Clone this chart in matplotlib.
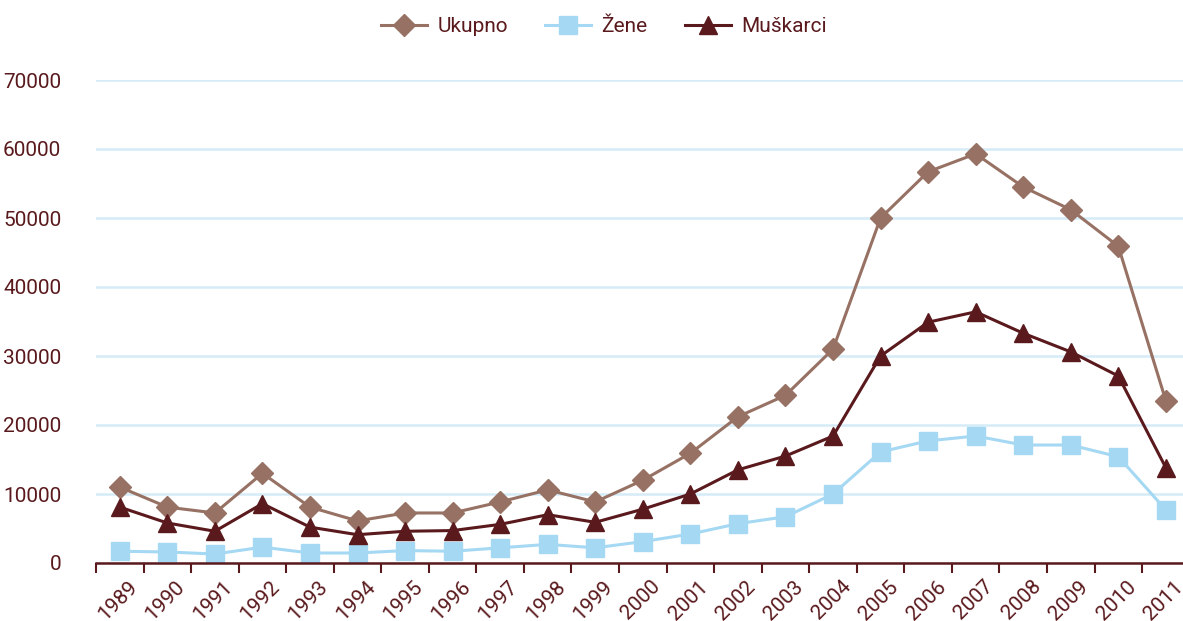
import numpy as np
import matplotlib.pyplot as plt
from matplotlib.transforms import ScaledTranslation

years = [str(y) for y in range(1989, 2012)]
ukupno = [11000, 8100, 7250, 13000, 8100, 6100, 7250, 7250, 8850, 10600, 8850, 12000,
          15900, 21200, 24300, 31000, 50000, 56700, 59300, 54500, 51200, 45900, 23500]
zene = [1700, 1600, 1300, 2300, 1450, 1450, 1800, 1700, 2200, 2700, 2200, 3100,
        4200, 5700, 6700, 10000, 16100, 17700, 18400, 17100, 17100, 15400, 7700]
muskarci = [8100, 5800, 4600, 8600, 5200, 4100, 4600, 4700, 5600, 7000, 5900, 7800,
            10000, 13500, 15500, 18400, 30000, 34900, 36400, 33300, 30600, 27100, 13800]
yticks = [0, 10000, 20000, 30000, 40000, 50000, 60000, 70000]

text_color = '#5a1a1d'
c_uk = '#977264'
c_ze = '#a5d8f3'
c_mu = '#5a1a1d'
grid_color = '#d5ecf8'

plt.rcParams['font.family'] = ['Roboto', 'DejaVu Sans']

fig = plt.figure(figsize=(11.83, 6.21), dpi=100)
ax = fig.add_axes([96 / 1183, 1 - 563 / 621, (23 * 47.55) / 1183, (563 - 80) / 621])

x = np.arange(len(years))
ax.plot(x, ukupno, color=c_uk, lw=2.2, marker='D', ms=11, label='Ukupno')
ax.plot(x, zene, color=c_ze, lw=2.2, marker='s', ms=13, label='Žene')
ax.plot(x, muskarci, color=c_mu, lw=2.2, marker='^', ms=13, label='Muškarci')

ax.set_xlim(-0.5, len(years) - 0.5)
ax.set_ylim(0, 70000)
ax.set_yticks(yticks)
ax.set_yticklabels([str(v) for v in yticks])
ax.grid(axis='y', color=grid_color, lw=1.8)
ax.set_axisbelow(True)

for s in ['top', 'right', 'left']:
    ax.spines[s].set_visible(False)
ax.spines['bottom'].set_color(text_color)
ax.spines['bottom'].set_linewidth(1.8)
ax.spines['bottom'].set_zorder(5)

ax.set_xticks(np.arange(len(years) + 1) - 0.5)
ax.set_xticklabels([])
ax.tick_params(axis='x', which='major', direction='out', length=7, width=1.5, color=text_color)
ax.set_xticks(x, minor=True)
ax.set_xticklabels(years, minor=True, rotation=45, ha='right', va='top',
                   rotation_mode='anchor', fontsize=15, color=text_color)
ax.tick_params(axis='x', which='minor', length=0, pad=10)
shift = ScaledTranslation(8 / 100, 0, fig.dpi_scale_trans)
for lbl in ax.get_xticklabels(minor=True):
    lbl.set_transform(lbl.get_transform() + shift)
ax.tick_params(axis='y', length=0, pad=25, labelsize=15, labelcolor=text_color)

leg = fig.legend(loc='center', bbox_to_anchor=(604 / 1183, 1 - 27 / 621), ncol=3,
                 frameon=False, fontsize=15, handlelength=2.2, columnspacing=1.8,
                 handletextpad=0.5)
for t in leg.get_texts():
    t.set_color(text_color)

fig.savefig('out.png', dpi=100)
